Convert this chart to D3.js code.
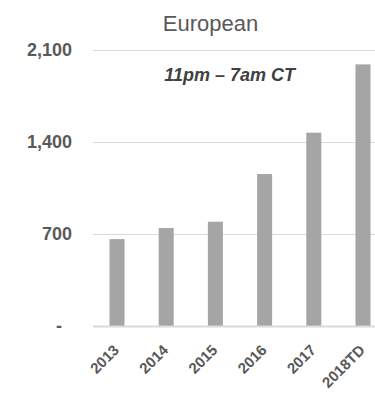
<!DOCTYPE html>
<html><head><meta charset="utf-8">
<script src="https://cdn.jsdelivr.net/npm/d3@7"></script>
<style>body{margin:0;background:#fff}svg{display:block}text{font-family:"Liberation Sans",Arial,sans-serif}</style>
</head><body><div id="chart"></div>
<script>
const categories = ["2013","2014","2015","2016","2017","2018TD"];
const values = [660, 744, 792, 1154, 1468, 1987];
const yTicks = [0, 700, 1400, 2100];
const title = "European";
const subtitle = "11pm \u2013 7am CT";

const W = 375, H = 393;
const svg = d3.select("#chart").append("svg").attr("width", W).attr("height", H);
const x = d3.scaleBand().domain(categories).range([92.4, 387.6]).paddingInner(0.695).paddingOuter(0.3475);
const y = d3.scaleLinear().domain([0, 2100]).range([326, 49.5]);

// gridlines
svg.append("g").selectAll("line").data(yTicks.filter(d => d > 0)).join("line")
  .attr("x1", 93).attr("x2", 388).attr("y1", d => Math.round(y(d)) + 0.5).attr("y2", d => Math.round(y(d)) + 0.5)
  .attr("stroke", "#d9d9d9").attr("stroke-width", 1);

// y axis labels
const yAxis = d3.axisLeft(y).tickValues(yTicks).tickSize(0).tickPadding(21)
  .tickFormat(d => d === 0 ? "-" : d3.format(",")(d));
const gy = svg.append("g").attr("transform", "translate(93,0)").call(yAxis);
gy.select(".domain").remove();
gy.selectAll("text").attr("font-size", 18).attr("font-weight", "bold").attr("fill", "#595959")
  .attr("font-family", "'Liberation Sans', Arial, sans-serif");
gy.selectAll(".tick").filter(d => d === 0).select("text").attr("dx", -10);

// bars
svg.append("g").selectAll("rect").data(values).join("rect")
  .attr("x", (d, i) => x(categories[i])).attr("width", x.bandwidth())
  .attr("y", d => y(d)).attr("height", d => y(0) - y(d)).attr("fill", "#a5a5a5");

// x axis line
svg.append("line").attr("x1", 93).attr("x2", 388).attr("y1", 326.5).attr("y2", 326.5)
  .attr("stroke", "#d9d9d9").attr("stroke-width", 2);

// x labels
const xAxis = d3.axisBottom(x).tickSize(0).tickPadding(0);
const gx = svg.append("g").attr("transform", "translate(0,326)").call(xAxis);
gx.select(".domain").remove();
gx.selectAll("text").attr("font-size", 15).attr("font-weight", "bold").attr("fill", "#595959")
  .attr("font-family", "'Liberation Sans', Arial, sans-serif")
  .attr("text-anchor", "end").attr("dy", null).attr("y", 0)
  .attr("transform", "translate(3,25) rotate(-45)");

// titles
svg.append("text").attr("x", 210.5).attr("y", 30.5).attr("text-anchor", "middle")
  .attr("font-size", 22).attr("fill", "#595959").text(title);
svg.append("text").attr("x", 229.7).attr("y", 81).attr("text-anchor", "middle")
  .attr("font-size", 18).attr("font-weight", "bold").attr("font-style", "italic").attr("fill", "#404040").text(subtitle);
</script></body></html>
